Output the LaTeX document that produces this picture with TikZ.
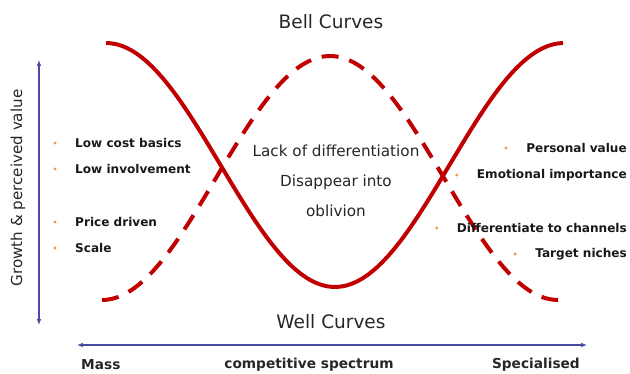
\documentclass[tikz,border=0pt]{standalone}
\usepackage{fontspec}
\setmainfont{DejaVu Sans}
\usetikzlibrary{arrows.meta, positioning}
\definecolor{curvered}{HTML}{C00000}
\definecolor{axisblue}{HTML}{4B4BA5}
\definecolor{dotorange}{HTML}{F79646}
\tikzset{
    curvesolid/.style={curvered, line width=3.4pt},
    curvedash/.style={curvered, line width=3.4pt, dash pattern=on 14.5pt off 9.5pt},
    axisline/.style={axisblue, line width=1.2pt, {Latex[length=5pt,width=4pt]}-{Latex[length=5pt,width=4pt]}},
    bullettext/.style={font=\bfseries\fontsize{10.3}{12}\selectfont, text=black!90, inner sep=0pt},
    midtext/.style={font=\fontsize{13}{15}\selectfont, text=black!85, inner sep=0pt},
    titletext/.style={font=\fontsize{15.8}{18}\selectfont, text=black!85, inner sep=0pt},
    axistext/.style={font=\bfseries\fontsize{11.7}{13}\selectfont, text=black!85, inner sep=0pt},
    dot/.style={circle, fill=dotorange, inner sep=0pt, minimum size=2.8pt}
}
\begin{document}
\begin{tikzpicture}[x=0.03cm, y=-0.03cm]
    \useasboundingbox (0,0) rectangle (630,374);
    % axes
    \coordinate (vtop) at (39,60);
    \coordinate (vbot) at (39,325);
    \coordinate (hleft) at (77,345);
    \coordinate (hright) at (587,345);
    \draw[axisline] (vtop) -- (vbot);
    \draw[axisline] (hleft) -- (hright);
    \node[font=\fontsize{12.9}{15}\selectfont, text=black!85, rotate=90, inner sep=0pt] (ylabel) at (18,188) {Growth \& perceived value};
    % curves
    \draw[curvesolid] plot[domain=106:563, samples=90] (\x, {165+122*cos((\x-335)/229*180)});
    \draw[curvedash] plot[domain=102:560, samples=90] (\x, {178-122*cos((\x-330)/228*180)});
    % titles
    \node[titletext] (bell) at (331,22) {Bell Curves};
    \node[titletext] (well) at (331,322) {Well Curves};
    \node[midtext] (lack) at (336,151) {Lack of differentiation};
    \node[midtext] (disappear) at (336,182) {Disappear into};
    \node[midtext] (oblivion) at (336,211) {oblivion};
    % left bullets
    \node[bullettext, anchor=west] (lowcost) at (75,143) {Low cost basics};
    \node[bullettext, anchor=west] (lowinv) at (75,169) {Low involvement};
    \node[bullettext, anchor=west] (price) at (75,222) {Price driven};
    \node[bullettext, anchor=west] (scale) at (75,248) {Scale};
    \foreach \n in {lowcost, lowinv, price, scale}
        \node[dot] at ([xshift=-20*0.03cm]\n.west) {};
    % right bullets
    \node[bullettext, anchor=east] (personal) at (627,148) {Personal value};
    \node[bullettext, anchor=east] (emotional) at (627,175) {Emotional importance};
    \node[bullettext, anchor=east] (channels) at (627,228) {Differentiate to channels};
    \node[bullettext, anchor=east] (niches) at (627,254) {Target niches};
    \foreach \n in {personal, emotional, channels, niches}
        \node[dot] at ([xshift=-20*0.03cm]\n.west) {};
    % spectrum labels
    \node[axistext, anchor=west] (mass) at (81,365) {Mass};
    \node[axistext] (spectrum) at (309,365) {competitive spectrum};
    \node[axistext, anchor=east] (special) at (580,365) {Specialised};
\end{tikzpicture}
\end{document}
